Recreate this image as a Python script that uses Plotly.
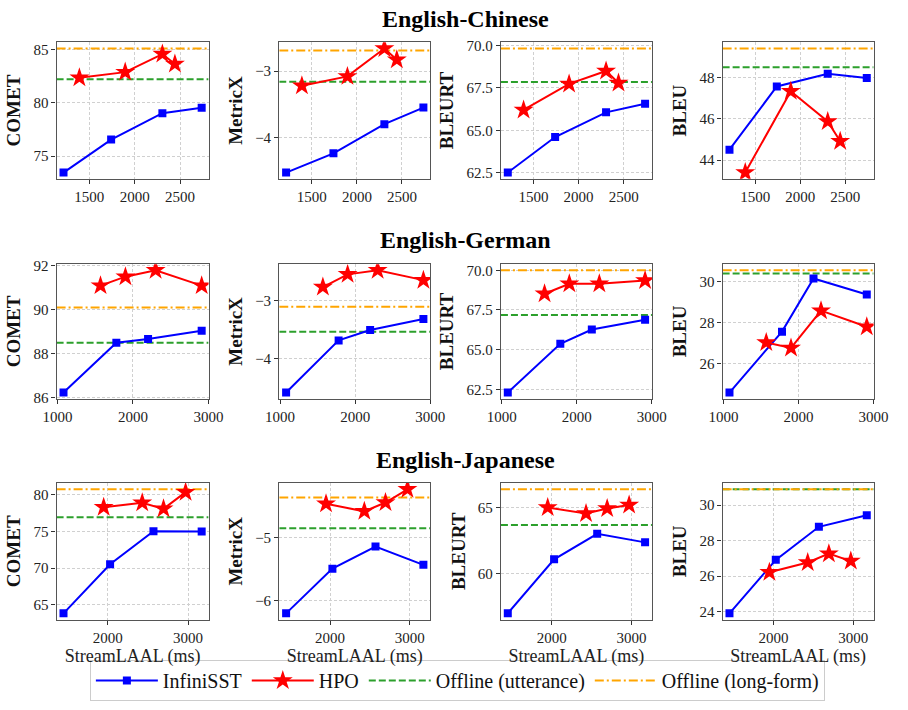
import plotly.graph_objects as go
from plotly.subplots import make_subplots

# ---------------- data ----------------
pairs = ["English-Chinese", "English-German", "English-Japanese"]
metrics = ["COMET", "MetricX", "BLEURT", "BLEU"]
series_names = ["InfiniSST", "HPO", "Offline (utterance)", "Offline (long-form)"]

# StreamLAAL (ms)
zh_x_infinisst = [1215, 1740, 2305, 2738]
zh_x_hpo = [1390, 1895, 2305, 2443]
de_x_infinisst = [1080, 1780, 2200, 2910]
de_x_hpo = [1570, 1900, 2300, 2910]
ja_x_infinisst = [1450, 2030, 2570, 3170]
ja_x_hpo = [1950, 2430, 2695, 2970]

# English-Chinese
zh_comet_infinisst = [73.45, 76.55, 79.04, 79.54]
zh_comet_hpo = [82.37, 82.90, 84.60, 83.67]
zh_metricx_infinisst = [-4.53, -4.24, -3.80, -3.55]
zh_metricx_hpo = [-3.22, -3.08, -2.66, -2.83]
zh_bleurt_infinisst = [62.52, 64.61, 66.06, 66.56]
zh_bleurt_hpo = [66.20, 67.73, 68.49, 67.78]
zh_bleu_infinisst = [44.50, 47.57, 48.19, 47.98]
zh_bleu_hpo = [43.39, 47.34, 45.87, 44.91]
zh_offline_utt = [82.24, -3.16, 67.84, 48.50]
zh_offline_long = [85.12, -2.69, 69.81, 49.41]

# English-German
de_comet_infinisst = [86.22, 88.49, 88.67, 89.04]
de_comet_hpo = [91.10, 91.51, 91.80, 91.10]
de_metricx_infinisst = [-4.59, -3.69, -3.51, -3.32]
de_metricx_hpo = [-2.77, -2.55, -2.48, -2.65]
de_bleurt_infinisst = [62.30, 65.37, 66.27, 66.88]
de_bleurt_hpo = [68.52, 69.15, 69.15, 69.36]
de_bleu_infinisst = [24.57, 27.56, 30.17, 29.38]
de_bleu_hpo = [27.03, 26.76, 28.59, 27.80]
de_offline_utt = [88.49, -3.54, 67.19, 30.41]
de_offline_long = [90.10, -3.11, 70.00, 30.57]

# English-Japanese
ja_comet_infinisst = [63.86, 70.55, 75.04, 75.00]
ja_comet_hpo = [78.29, 78.90, 78.08, 80.35]
ja_metricx_infinisst = [-6.20, -5.49, -5.14, -5.43]
ja_metricx_hpo = [-4.46, -4.58, -4.44, -4.23]
ja_bleurt_infinisst = [56.97, 61.07, 63.01, 62.36]
ja_bleurt_hpo = [65.00, 64.55, 64.93, 65.20]
ja_bleu_infinisst = [23.91, 26.92, 28.78, 29.43]
ja_bleu_hpo = [26.22, 26.77, 27.27, 26.85]
ja_offline_utt = [76.94, -4.85, 63.68, 30.89]
ja_offline_long = [80.74, -4.36, 66.39, 30.89]

x_dticks = [500, 1000, 1000]
y_dticks = [[5, 1, 2.5, 2], [2, 1, 2.5, 2], [5, 1, 5, 2]]
y_formats = [["", "", ".1f", ""], ["", "", ".1f", ""], ["", "", "", ""]]

rows = [
    dict(xi=zh_x_infinisst, xh=zh_x_hpo,
         inf=[zh_comet_infinisst, zh_metricx_infinisst, zh_bleurt_infinisst, zh_bleu_infinisst],
         hpo=[zh_comet_hpo, zh_metricx_hpo, zh_bleurt_hpo, zh_bleu_hpo],
         utt=zh_offline_utt, long=zh_offline_long),
    dict(xi=de_x_infinisst, xh=de_x_hpo,
         inf=[de_comet_infinisst, de_metricx_infinisst, de_bleurt_infinisst, de_bleu_infinisst],
         hpo=[de_comet_hpo, de_metricx_hpo, de_bleurt_hpo, de_bleu_hpo],
         utt=de_offline_utt, long=de_offline_long),
    dict(xi=ja_x_infinisst, xh=ja_x_hpo,
         inf=[ja_comet_infinisst, ja_metricx_infinisst, ja_bleurt_infinisst, ja_bleu_infinisst],
         hpo=[ja_comet_hpo, ja_metricx_hpo, ja_bleurt_hpo, ja_bleu_hpo],
         utt=ja_offline_utt, long=ja_offline_long),
]

# ---------------- styling ----------------
W, H = 908, 710
FONT = "Liberation Serif"
C_INF = "#0000ff"
C_HPO = "#ff0000"
C_UTT = "#2ca02c"
C_LONG = "#ffa500"
DASH_UTT = "7px,3px"
DASH_LONG = "9px,3px,2px,3px"

col_px = [(44, 201), (274, 430), (503, 659), (732, 888)]
row_px = [(37, 176), (263, 400), (486, 625)]
title_px = [13, 238, 462]


def padded(vals, frac=0.05):
    lo, hi = min(vals), max(vals)
    s = hi - lo
    return [lo - frac * s, hi + frac * s]


fig = make_subplots(rows=3, cols=4)

for r, d in enumerate(rows):
    xr = padded(d["xi"] + d["xh"])
    for c in range(4):
        first = (r == 0 and c == 0)
        yr = padded(d["inf"][c] + d["hpo"][c] + [d["utt"][c], d["long"][c]])
        fig.add_trace(go.Scatter(x=xr, y=[d["utt"][c]] * 2, mode="lines",
                                 line=dict(color=C_UTT, width=2, dash=DASH_UTT),
                                 name=series_names[2], showlegend=False,
                                 hoverinfo="skip"), row=r + 1, col=c + 1)
        fig.add_trace(go.Scatter(x=xr, y=[d["long"][c]] * 2, mode="lines",
                                 line=dict(color=C_LONG, width=2, dash=DASH_LONG),
                                 name=series_names[3], showlegend=False,
                                 hoverinfo="skip"), row=r + 1, col=c + 1)
        fig.add_trace(go.Scatter(x=d["xi"], y=d["inf"][c], mode="lines+markers",
                                 line=dict(color=C_INF, width=2),
                                 marker=dict(symbol="square", size=8, color=C_INF),
                                 name=series_names[0], showlegend=first, legendrank=1),
                      row=r + 1, col=c + 1)
        fig.add_trace(go.Scatter(x=d["xh"], y=d["hpo"][c], mode="lines+markers",
                                 line=dict(color=C_HPO, width=2),
                                 marker=dict(symbol="star", size=15, color=C_HPO,
                                             line=dict(width=0)),
                                 name=series_names[1], showlegend=first, legendrank=2),
                      row=r + 1, col=c + 1)
        n = r * 4 + c + 1
        sfx = "" if n == 1 else str(n)
        x0, x1 = col_px[c]
        y0, y1 = row_px[r]
        fig.layout["xaxis" + sfx].update(
            domain=[x0 / W, x1 / W], range=xr, dtick=x_dticks[r], tick0=0,
            showline=True, mirror=True, linecolor="#555555", linewidth=1.3,
            showgrid=True, gridcolor="#d0d0d0", griddash="3px,2px", gridwidth=0.8,
            ticks="outside", ticklen=4, tickcolor="#333333",
            tickfont=dict(family=FONT, size=15, color="#222222"),
            zeroline=False,
            title=dict(text="StreamLAAL (ms)" if r == 2 else "",
                       font=dict(family=FONT, size=18, color="#222222"), standoff=0),
        )
        fig.layout["yaxis" + sfx].update(
            domain=[1 - y1 / H, 1 - y0 / H], range=yr, dtick=y_dticks[r][c], tick0=0,
            tickformat=y_formats[r][c],
            showline=True, mirror=True, linecolor="#555555", linewidth=1.3,
            showgrid=True, gridcolor="#d0d0d0", griddash="3px,2px", gridwidth=0.8,
            ticks="outside", ticklen=4, tickcolor="#333333",
            tickfont=dict(family=FONT, size=15, color="#222222"),
            zeroline=False,
            title=dict(text="<b>%s</b>" % metrics[c],
                       font=dict(family=FONT, size=19, color="#111111"), standoff=7),
        )

# legend entries for offline lines
fig.add_trace(go.Scatter(x=[None], y=[None], mode="lines",
                         line=dict(color=C_UTT, width=2, dash=DASH_UTT),
                         name=series_names[2], legendrank=3), row=1, col=1)
fig.add_trace(go.Scatter(x=[None], y=[None], mode="lines",
                         line=dict(color=C_LONG, width=2, dash=DASH_LONG),
                         name=series_names[3], legendrank=4), row=1, col=1)

for r, t in enumerate(pairs):
    fig.add_annotation(text="<b>%s</b>" % t, x=466 / W, y=1 - title_px[r] / H,
                       xref="paper", yref="paper", showarrow=False,
                       xanchor="center", yanchor="middle",
                       font=dict(family=FONT, size=24, color="#000000"))

fig.update_layout(
    width=W, height=H,
    margin=dict(l=0, r=0, t=0, b=0),
    paper_bgcolor="white", plot_bgcolor="white",
    font=dict(family=FONT, size=15, color="#222222"),
    showlegend=True,
    legend=dict(orientation="h", x=458 / W, y=1 - 687 / H,
                xanchor="center", yanchor="middle",
                bordercolor="#cccccc", borderwidth=1,
                font=dict(family=FONT, size=20, color="#111111"),
                itemwidth=62, traceorder="normal"),
)

fig.write_html("out.html")
